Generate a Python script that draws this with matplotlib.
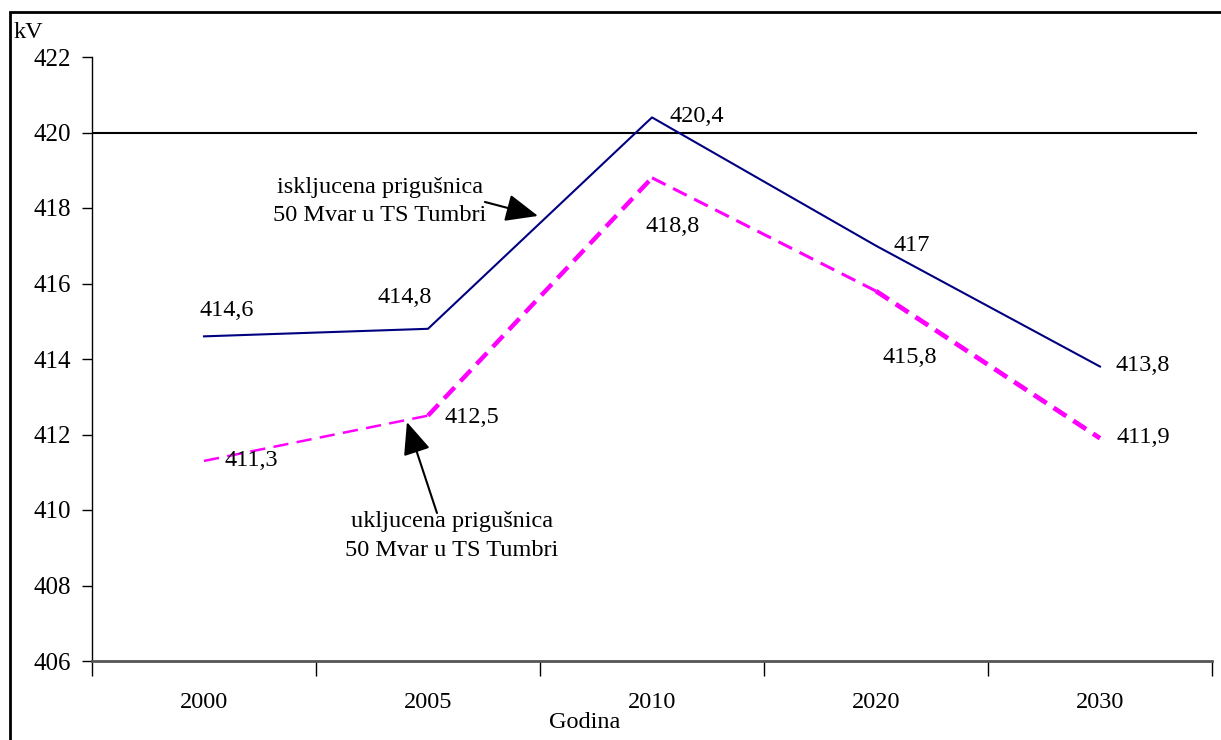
import matplotlib.pyplot as plt
from matplotlib.patches import Rectangle

# -------------------------
# Data
# -------------------------
years = ["2000", "2005", "2010", "2020", "2030"]
iskljucena = [414.6, 414.8, 420.4, 417.0, 413.8]
ukljucena = [411.3, 412.5, 418.8, 415.8, 411.9]
limit_kv = 420

lbl_isk = ["414,6", "414,8", "420,4", "417", "413,8"]
lbl_ukl = ["411,3", "412,5", "418,8", "415,8", "411,9"]

plt.rcParams["font.family"] = ["Liberation Serif", "DejaVu Serif"]

fig = plt.figure(figsize=(12.21, 7.40), dpi=100)
ax = fig.add_axes([92 / 1221, 1 - 661 / 740, 1120 / 1221, 604 / 740])

x = list(range(len(years)))

# navy line (iskljucena)
ax.plot(x, iskljucena, color="#000080", lw=1.5, zorder=3)

# magenta dashed line (ukljucena), segment widths differ as in the original
seg_w = [1.8, 3.2, 2.2, 3.4]
for i in range(len(x) - 1):
    w = seg_w[i]
    ax.plot(x[i:i + 2], ukljucena[i:i + 2], color="#FF00FF", lw=w,
            linestyle=(0, (11 / w, 6 / w)), solid_capstyle="butt",
            dash_capstyle="butt", zorder=3)

# 420 kV limit line
ax.plot([-0.5, 4.43], [limit_kv, limit_kv], color="black", lw=1.5, zorder=2)

# -------------------------
# Data labels
# -------------------------
off_isk = [(23, 26), (-23, 31), (45, 1), (36, 0), (43, 1)]
off_ukl = [(47, 0), (44, -2), (21, -49), (34, -66), (43, 1)]
for xi, yi, t, o in zip(x, iskljucena, lbl_isk, off_isk):
    ax.annotate(t, (xi, yi), xytext=o, textcoords="offset pixels",
                ha="center", va="center", fontsize=17.5)
for xi, yi, t, o in zip(x, ukljucena, lbl_ukl, off_ukl):
    ax.annotate(t, (xi, yi), xytext=o, textcoords="offset pixels",
                ha="center", va="center", fontsize=17.5)

# -------------------------
# Arrow annotations
# -------------------------
arrow = dict(arrowstyle="-|>,head_length=2.0,head_width=0.85",
             color="black", lw=1.5, shrinkA=0, shrinkB=0)
ax.annotate("", xy=(1.491, 417.79), xytext=(1.254, 418.16), arrowprops=arrow)
ax.text(0.786, 418.18, "iskljucena prigušnica\n50 Mvar u TS Tumbri",
        ha="center", va="center", fontsize=17.5, linespacing=1.45)
ax.annotate("", xy=(0.906, 412.33), xytext=(1.04, 409.92), arrowprops=arrow)
ax.text(1.107, 409.3, "ukljucena prigušnica\n50 Mvar u TS Tumbri",
        ha="center", va="center", fontsize=17.5, linespacing=1.5)

# -------------------------
# Axes styling
# -------------------------
ax.set_xlim(-0.5, len(years) - 0.5)
ax.set_ylim(406, 422)
ax.set_yticks(range(406, 423, 2))
ax.set_xticks(x)
ax.set_xticklabels(years)
ax.set_xticks([i - 0.5 for i in range(len(years) + 1)], minor=True)
ax.tick_params(axis="x", which="major", length=0, pad=22, labelsize=17.5)
ax.tick_params(axis="x", which="minor", length=11, width=1, direction="out")
ax.tick_params(axis="y", length=7, width=1, direction="out", pad=8, labelsize=18)

for s in ["top", "right"]:
    ax.spines[s].set_visible(False)
ax.spines["left"].set_linewidth(1)
ax.spines["bottom"].set_linewidth(2)
ax.spines["bottom"].set_color("#555555")

fig.text(14 / 1221, 1 - 32 / 740, "kV", fontsize=17.5, va="center", ha="left")
fig.text(585 / 1221, 1 - 723 / 740, "Godina", fontsize=17.5, va="center", ha="center")

# outer chart border
fig.patches.append(Rectangle((10 / 1221, -0.1), 1.2, 1 - 12 / 740 + 0.1,
                             transform=fig.transFigure, fill=False,
                             edgecolor="black", lw=2))

plt.savefig("out.png", dpi=100)
